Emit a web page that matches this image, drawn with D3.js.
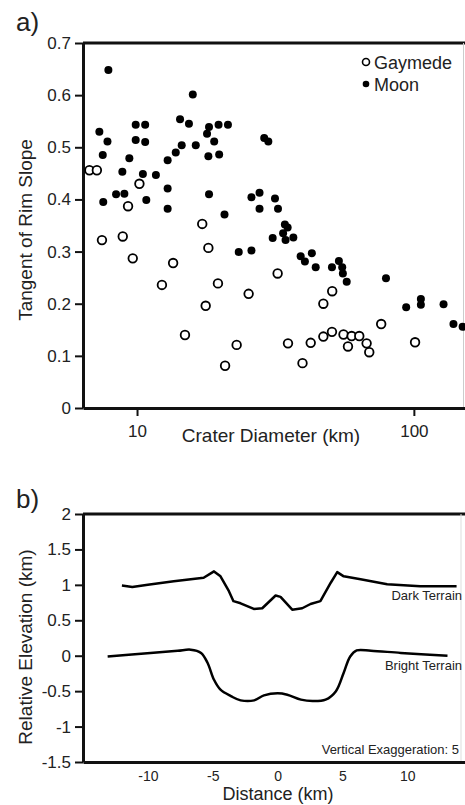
<!DOCTYPE html>
<html>
<head>
<meta charset="utf-8">
<script src="https://cdn.jsdelivr.net/npm/d3@7"></script>
<style>
  body { margin: 0; background: #fff; }
  svg text { font-family: "Liberation Sans", Arial, sans-serif; fill: #222; }
</style>
</head>
<body>
<div id="chart"></div>
<script>
/* Panel a: rim slope vs crater diameter */
var moonDiam = [7.88, 7.31, 7.82, 7.52, 9.89, 10.7, 9.89, 10.7, 9.38, 8.85, 10.5, 11.7,
  14.3, 15.9, 15.4, 14.5, 13.8, 12.9, 16.3, 17.9, 18.2, 19.7, 21.3, 19.0, 18.1, 19.8,
  7.55, 8.40, 9.0, 10.8, 12.9, 12.9, 18.2, 20.7, 23.3, 28.8, 29.8, 25.9, 27.7, 31.5,
  27.7, 32.3, 34.2, 35.0, 33.7, 34.4, 36.7, 30.9, 25.9, 39.0, 40.4, 42.8, 44.2, 50.6,
  53.6, 55.1, 55.4, 57.2, 79.3, 93.8, 106, 106, 128, 139, 150];
var moonSlope = [0.648, 0.530, 0.511, 0.485, 0.543, 0.543, 0.514, 0.510, 0.479, 0.453, 0.449, 0.447,
  0.554, 0.601, 0.545, 0.504, 0.490, 0.475, 0.504, 0.526, 0.539, 0.543, 0.543, 0.511, 0.483, 0.486,
  0.395, 0.410, 0.411, 0.399, 0.421, 0.382, 0.410, 0.371, 0.299, 0.518, 0.511, 0.404, 0.413, 0.402,
  0.382, 0.382, 0.352, 0.346, 0.335, 0.322, 0.327, 0.326, 0.302, 0.291, 0.281, 0.297, 0.270, 0.270,
  0.282, 0.270, 0.258, 0.242, 0.249, 0.193, 0.209, 0.198, 0.199, 0.161, 0.156];

var ganyDiam = [6.73, 7.16, 7.47, 8.88, 9.28, 9.65, 10.2, 12.3, 13.5, 14.9, 17.2, 18.1,
  17.7, 19.6, 20.8, 22.9, 32.2, 25.3, 50.7, 47.1, 76.2, 35.1, 42.4, 47.1, 50.6, 55.7,
  59.6, 63.5, 67.5, 69.0, 57.8, 101, 39.6];
var ganySlope = [0.456, 0.456, 0.322, 0.329, 0.387, 0.287, 0.430, 0.236, 0.278, 0.140, 0.353, 0.307,
  0.196, 0.239, 0.081, 0.121, 0.258, 0.219, 0.224, 0.200, 0.161, 0.124, 0.125, 0.137, 0.146, 0.141,
  0.138, 0.138, 0.124, 0.107, 0.118, 0.126, 0.086];

var slopeTicks = [0, 0.1, 0.2, 0.3, 0.4, 0.5, 0.6, 0.7];
var diamTicks = [10, 100];

/* Panel b: crater profiles */
var darkDist = [-12, -11.2, -10, -8, -5.7, -4.9, -4.4, -3.75, -3.4, -2.85, -1.83, -1.18, -0.15,
  0.23, 1.13, 1.9, 2.54, 3.3, 4.1, 4.6, 5.1, 6.4, 8.45, 11, 13.8];
var darkElev = [0.99, 0.97, 1.0, 1.05, 1.10, 1.19, 1.12, 0.91, 0.77, 0.74, 0.66, 0.67, 0.85,
  0.83, 0.65, 0.67, 0.73, 0.77, 1.03, 1.18, 1.12, 1.08, 1.01, 0.98, 0.98];

var brightDist = [-13.1, -9.8, -7.7, -6.7, -5.9, -5.4, -4.9, -4.4, -3.6, -2.85, -1.8, -1.05, 0,
  0.75, 1.8, 2.7, 3.7, 4.5, 5.1, 5.6, 6.1, 7.2, 9.5, 13.1];
var brightElev = [-0.01, 0.04, 0.07, 0.085, 0.04, -0.10, -0.34, -0.48, -0.57, -0.63, -0.63, -0.56, -0.53,
  -0.55, -0.62, -0.64, -0.62, -0.50, -0.24, -0.01, 0.075, 0.07, 0.04, 0.0];

var elevTicks = [-1.5, -1, -0.5, 0, 0.5, 1, 1.5, 2];
var distTicks = [-10, -5, 0, 5, 10];

var W = 465, H = 805;
var svg = d3.select("#chart").append("svg")
    .attr("width", W)
    .attr("height", H);

function styleAxis(size) {
  return function(g) {
    g.select(".domain").attr("stroke", "#111").attr("stroke-width", 3);
    g.selectAll(".tick line").attr("stroke", "#111").attr("stroke-width", 2);
    g.selectAll(".tick text").style("font-size", size + "px").attr("fill", "#222");
  };
}

/* ---------- panel a ---------- */
var xA = d3.scaleLog().domain([6.38, 153]).range([83, 465]),
    yA = d3.scaleLinear().domain([0, 0.7]).range([408, 43]);

svg.append("line")
  .attr("x1", 83).attr("x2", 465).attr("y1", yA(0.7)).attr("y2", yA(0.7))
  .attr("stroke", "#111").attr("stroke-width", 3);
svg.append("line")
  .attr("x1", 463.5).attr("x2", 463.5).attr("y1", yA(0.7)).attr("y2", yA(0))
  .attr("stroke", "#ccc").attr("stroke-width", 1);

svg.append("g")
  .attr("transform", "translate(83,0)")
  .call(d3.axisLeft(yA).tickValues(slopeTicks).tickFormat(d => String(d)).tickSize(8).tickSizeOuter(0).tickPadding(4))
  .call(styleAxis(17));

svg.append("g")
  .attr("transform", "translate(0,408)")
  .call(d3.axisBottom(xA).tickValues(diamTicks).tickFormat(d => String(d)).tickSize(8).tickSizeOuter(0).tickPadding(9))
  .call(styleAxis(17));

svg.selectAll("circle.moon")
  .data(moonDiam)
  .enter().append("circle")
  .attr("class", "moon")
  .attr("cx", d => xA(d))
  .attr("cy", (d, i) => yA(moonSlope[i]))
  .attr("r", 4)
  .attr("fill", "#000");

svg.selectAll("circle.gany")
  .data(ganyDiam)
  .enter().append("circle")
  .attr("class", "gany")
  .attr("cx", d => xA(d))
  .attr("cy", (d, i) => yA(ganySlope[i]))
  .attr("r", 4.3)
  .attr("fill", "#fff")
  .attr("stroke", "#000")
  .attr("stroke-width", 1.8);

/* legend */
svg.append("circle").attr("cx", 366).attr("cy", 62).attr("r", 3.5)
  .attr("fill", "#fff").attr("stroke", "#000").attr("stroke-width", 1.6);
svg.append("text").attr("x", 374).attr("y", 68.5).style("font-size", "18px").text("Gaymede");
svg.append("circle").attr("cx", 366).attr("cy", 84).attr("r", 3.3).attr("fill", "#000");
svg.append("text").attr("x", 374).attr("y", 91).style("font-size", "18px").text("Moon");

svg.append("text").attr("x", 271).attr("y", 442).attr("text-anchor", "middle")
  .style("font-size", "19px").text("Crater Diameter (km)");
svg.append("text").attr("transform", "translate(32,230) rotate(-90)").attr("text-anchor", "middle")
  .style("font-size", "19px").text("Tangent of Rim Slope");
svg.append("text").attr("x", 16).attr("y", 31).style("font-size", "26px").text("a)");

/* ---------- panel b ---------- */
var xB = d3.scaleLinear().domain([-15, 14.45]).range([83, 465]),
    yB = d3.scaleLinear().domain([-1.5, 2]).range([762, 514]);

svg.append("line")
  .attr("x1", 83).attr("x2", 465).attr("y1", yB(2)).attr("y2", yB(2))
  .attr("stroke", "#111").attr("stroke-width", 3);
svg.append("line")
  .attr("x1", 461).attr("x2", 461).attr("y1", yB(2)).attr("y2", yB(-1.5))
  .attr("stroke", "#ddd").attr("stroke-width", 1);

svg.append("g")
  .attr("transform", "translate(83,0)")
  .call(d3.axisLeft(yB).tickValues(elevTicks).tickFormat(d => String(d)).tickSize(8).tickSizeOuter(0).tickPadding(4))
  .call(styleAxis(17));

svg.append("g")
  .attr("transform", "translate(0,762)")
  .call(d3.axisBottom(xB).tickValues(distTicks).tickFormat(d => String(d)).tickSize(0).tickSizeOuter(0).tickPadding(9))
  .call(styleAxis(14));

var lineB = d3.line()
  .x(d => xB(d[0]))
  .y(d => yB(d[1]));

svg.append("path")
  .datum(darkDist.map((d, i) => [d, darkElev[i]]))
  .attr("fill", "none").attr("stroke", "#000").attr("stroke-width", 2.5)
  .attr("stroke-linejoin", "round")
  .attr("d", lineB.curve(d3.curveLinear));

svg.append("path")
  .datum(brightDist.map((d, i) => [d, brightElev[i]]))
  .attr("fill", "none").attr("stroke", "#000").attr("stroke-width", 2.5)
  .attr("d", lineB.curve(d3.curveCatmullRom));

svg.append("text").attr("x", 462).attr("y", 600).attr("text-anchor", "end")
  .style("font-size", "13px").text("Dark Terrain");
svg.append("text").attr("x", 462).attr("y", 670).attr("text-anchor", "end")
  .style("font-size", "13px").text("Bright Terrain");
svg.append("text").attr("x", 459).attr("y", 754).attr("text-anchor", "end")
  .style("font-size", "13px").text("Vertical Exaggeration: 5");

svg.append("text").attr("x", 278).attr("y", 800).attr("text-anchor", "middle")
  .style("font-size", "18px").text("Distance (km)");
svg.append("text").attr("transform", "translate(32,647) rotate(-90)").attr("text-anchor", "middle")
  .style("font-size", "19px").text("Relative Elevation (km)");
svg.append("text").attr("x", 16).attr("y", 508).style("font-size", "26px").text("b)");
</script>
</body>
</html>
